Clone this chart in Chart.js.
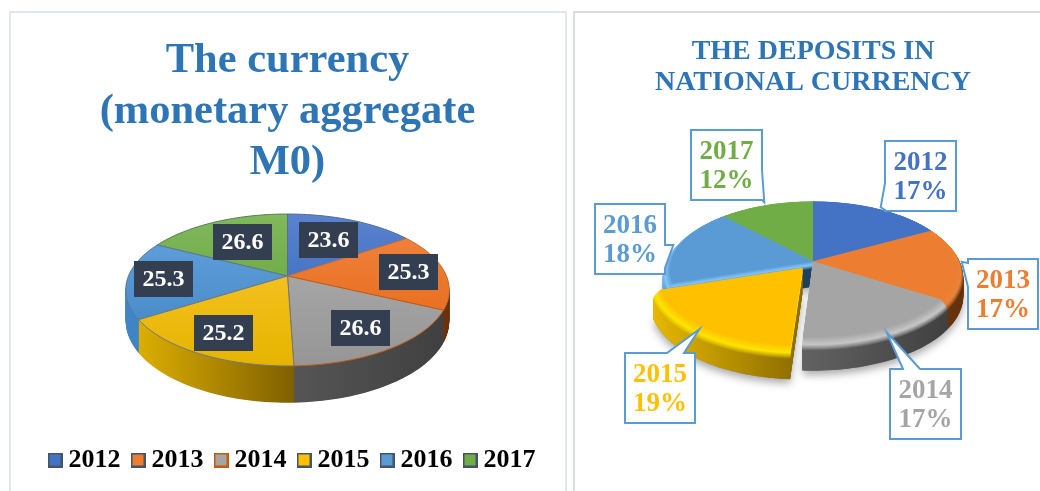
<!DOCTYPE html>
<html><head><meta charset="utf-8">
<script src="https://cdn.jsdelivr.net/npm/chart.js@4/dist/chart.umd.min.js"></script>
<style>
html,body{margin:0;padding:0;background:#fff;width:1040px;height:491px;overflow:hidden}
#p1,#p2{position:absolute;box-sizing:border-box;top:11px}
#p1{left:9px;width:558px;height:500px;border:2px solid #e0e6ef}
#p2{left:573px;width:490px;height:500px;border:2px solid #dcdcdc}
canvas{position:absolute;top:0}
#c1{left:0}#c2{left:573px}
</style></head><body>
<div id="p1"></div><div id="p2"></div>
<canvas id="c1" width="575" height="491"></canvas>
<canvas id="c2" width="480" height="491"></canvas>
<script>
const years=['2012','2013','2014','2015','2016','2017'];
const currencyValues=[23.6,25.3,26.6,25.2,25.3,26.6];
const depositShares=[17,17,17,19,18,12];
const titleLeft=['The currency','(monetary aggregate','M0)'];
const titleRight=['THE DEPOSITS IN','NATIONAL CURRENCY'];
const baseColors=['#4472c4','#ed7d31','#a5a5a5','#ffc000','#5b9bd5','#70ad47'];
const legendBorders=['#44546a','#44546a','#c55a11','#44546a','#44546a','#44546a'];

const hex=c=>[1,3,5].map(i=>parseInt(c.substr(i,2),16));
const mix=(a,b,t)=>{const A=hex(a),B=hex(b);return '#'+A.map((v,i)=>Math.round(v+(B[i]-v)*t).toString(16).padStart(2,'0')).join('')};

const leftStyle={cx:287.5,cy:276,R:159,k:73.4,p:.184,D:30,bevel:0,grow:0,explode:[0,0,0,0,0,0],
  order:[5,0,1,4,2,3],shadow:false,wallStop:[1,1,1,1,1,1],
  faceTop:['#5f86d2','#f48a4a','#b4b4b4','#ffcb3a','#6aa8e2','#84bb60'],
  faceBot:['#2f62b8','#e2640f','#969696','#e6b400','#3f82c2','#5f9f30'],
  hi:baseColors,
  wallL:['#2c4a80','#a04a12','#565656','#dcae00','#3f86c6','#4a7a30'],
  wallR:['#2c4a80','#6b300b','#404040','#7f6000','#3a78b0','#4a7a30'],
  stroke:['#5a6f90','#c07040','#c55a11','#6f7a80','#5a7a99','#5a7f60']};
const rightStyle={cx:813,cy:261.3,R:142,k:67,p:.118,D:25.5,bevel:8,grow:.05,explode:[0,0,0,.12,0,0],
  order:[5,0,4,1,2,3],shadow:true,wallStop:[1,1,1,1,.05,1],
  faceTop:baseColors,faceBot:baseColors,
  hi:['#5f8ad6','#e8843a','#c6c6c6','#ffe400','#84c6f8','#7fb85a'],
  wallL:['#2c4a80','#8a4512','#626262','#e6b800','#6cb2ee','#4a7a30'],
  wallR:['#2c4a80','#63300e','#404040','#8a6a00','#1f4060','#4a7a30'],
  stroke:[null,null,null,null,null,null]};

const leftBoxes=[[299,222],[379,254],[331,310],[194,315],[134,261],[213,224]];
const boxW=59,boxH=36;
// x, y, w, h, pointer tip x, y, pointer base start x, y, base end x, y  (in page pixels)
const callouts=[
 [885,141,71,70,880.7,207.3,885,183,885,210],
 [968,259,70,70,961.7,261.7,968,263,968,287],
 [890,369,71,70,886.7,332.3,903,369,920,369],
 [625,353,70,70,699.3,329.3,667,353,684,353],
 [595,204,70,70,673.3,245,665,245,665,268],
 [691,130,71,70,764.3,202.3,762,170,762,200]];

function slicePath(ctx,st,a0,a1,ex,s,off,midA){
  const eu=ex*Math.cos(midA),ev=ex*Math.sin(midA);
  const P=(u,v)=>{const w=1-st.p*v;return [st.cx+st.R*u/w,st.cy+st.k*v/w+off/w]};
  ctx.beginPath();
  let q=P(eu,ev);ctx.moveTo(q[0],q[1]);
  const n=Math.max(4,Math.ceil((a1-a0)/.03));
  let minX=q[0],maxX=q[0];
  for(let i=0;i<=n;i++){const a=a0+(a1-a0)*i/n;q=P(eu+s*Math.cos(a),ev+s*Math.sin(a));ctx.lineTo(q[0],q[1]);minX=Math.min(minX,q[0]);maxX=Math.max(maxX,q[0]);}
  ctx.closePath();
  return [minX,maxX];
}
function hGrad(ctx,x0,x1,l,r,stop){const g=ctx.createLinearGradient(x0,0,x1,0);g.addColorStop(0,l);g.addColorStop(stop,r);if(stop<1)g.addColorStop(1,r);return g}

function legendSwatch(fill,border){
  const c=document.createElement('canvas');c.width=15;c.height=15;
  const x=c.getContext('2d');x.fillStyle=fill;x.fillRect(0,0,15,15);
  x.strokeStyle=border;x.lineWidth=2;x.strokeRect(1,1,13,13);
  return c;
}

const tilt={id:'tilt',
 afterLayout(chart,args,o){
  if(o.legendShift&&chart.legend){chart.legend.left+=o.legendShift;chart.legend.right+=o.legendShift;}
 },
 beforeDatasetsDraw(chart,args,o){
  const st=o.style,ctx=chart.ctx,meta=chart.getDatasetMeta(0).data;
  ctx.save();
  ctx.translate(-o.ox,0);
  if(st.shadow){
    ctx.save();ctx.shadowColor='rgba(0,0,0,.35)';ctx.shadowBlur=9;ctx.shadowOffsetY=4;ctx.fillStyle='#888';
    st.order.forEach(i=>{const e=meta[i];slicePath(ctx,st,e.startAngle,e.endAngle,st.explode[i],1+st.grow,st.D,(e.startAngle+e.endAngle)/2);ctx.fill();});
    ctx.restore();
  }
  st.order.forEach(i=>{
    const e=meta[i],a0=e.startAngle,a1=e.endAngle,m=(a0+a1)/2,ex=st.explode[i];
    const [x0,x1]=slicePath(ctx,st,a0,a1,ex,1+st.grow,0,m);
    const step=.5;
    for(let off=st.D;off>0;off-=step){
      let l,r,s=1+st.grow;
      if(st.bevel&&off<st.bevel){
        const t=off/st.bevel;s=1+st.grow*Math.sin(t*Math.PI/2);
        if(t<.5){l=r=mix(st.faceBot[i],st.hi[i],t*2);}
        else{l=mix(st.hi[i],st.wallL[i],(t-.5)*2);r=mix(st.hi[i],st.wallR[i],(t-.5)*2);}
      }else{l=st.wallL[i];r=st.wallR[i];}
      ctx.fillStyle=hGrad(ctx,x0,x1,l,r,st.wallStop[i]);
      slicePath(ctx,st,a0,a1,ex,s,off,m);ctx.fill();
    }
    const g=ctx.createLinearGradient(0,st.cy-st.k*1.1,0,st.cy+st.k*1.2);
    g.addColorStop(0,st.faceTop[i]);g.addColorStop(1,st.faceBot[i]);
    ctx.fillStyle=g;
    slicePath(ctx,st,a0,a1,ex,1,0,m);ctx.fill();
    if(st.stroke[i]){ctx.strokeStyle=st.stroke[i];ctx.lineWidth=1;ctx.stroke();}
  });
  ctx.restore();
  return false;
 },
 afterDraw(chart,args,o){
  const ctx=chart.ctx;ctx.save();ctx.translate(-o.ox,0);
  if(o.kind==='box'){
    ctx.font='bold 24px "Liberation Serif"';ctx.textAlign='center';ctx.textBaseline='middle';
    currencyValues.forEach((v,i)=>{
      const [x,y]=leftBoxes[i];
      ctx.fillStyle='#333f50';ctx.fillRect(x,y,boxW,boxH);
      ctx.fillStyle='#fff';ctx.fillText(v.toFixed(1),x+boxW/2,y+boxH/2+1);
    });
  }else{
    years.forEach((yr,i)=>{
      const [x,y,w,h,tx,ty,bx0,by0,bx1,by1]=callouts[i];
      ctx.fillStyle='#fff';ctx.strokeStyle='#5b9bd5';ctx.lineWidth=2;
      const pts=[[x,y],[x+w,y],[x+w,y+h],[x,y+h]];
      ctx.beginPath();
      const side=bx0===bx1?(bx0<=x+1?3:1):(by0<=y+1?0:2);
      pts.forEach((p,j)=>{
        ctx.lineTo(p[0],p[1]);
        if(j===side){
          const rev=side===3;
          const a=rev?[bx1,by1]:[bx0,by0],b=rev?[bx0,by0]:[bx1,by1];
          ctx.lineTo(a[0],a[1]);ctx.lineTo(tx,ty);ctx.lineTo(b[0],b[1]);
        }
      });
      ctx.closePath();ctx.fill();ctx.stroke();
      ctx.fillStyle=baseColors[i];ctx.font='bold 27px "Liberation Serif"';ctx.textAlign='center';ctx.textBaseline='middle';
      ctx.fillText(yr,x+w/2,y+22);
      ctx.fillText(depositShares[i]+'%',x+w/2,y+51);
    });
  }
  ctx.restore();
 }};
Chart.register(tilt);
Chart.defaults.font.family='"Liberation Serif"';
Chart.defaults.animation=false;

new Chart(document.getElementById('c1'),{type:'pie',
 data:{labels:years,datasets:[{data:currencyValues,backgroundColor:baseColors,borderColor:legendBorders,borderWidth:2}]},
 options:{responsive:false,
  plugins:{
   tilt:{style:leftStyle,kind:'box',ox:0,legendShift:7.5},
   tooltip:{enabled:false},
   title:{display:true,text:titleLeft,color:'#2e75b6',font:{size:42.5,weight:'bold',lineHeight:1.2},padding:{top:36,bottom:0}},
   legend:{display:true,position:'bottom',labels:{color:'#000',font:{size:26,weight:'bold'},usePointStyle:true,pointStyleWidth:1,boxHeight:15,padding:17,
     generateLabels(chart){
       const items=Chart.overrides.pie.plugins.legend.labels.generateLabels(chart);
       items.forEach((it,i)=>{it.pointStyle=legendSwatch(baseColors[i],legendBorders[i]);});
       return items;
     }}}
  },layout:{padding:{bottom:8}}}});

new Chart(document.getElementById('c2'),{type:'pie',
 data:{labels:years,datasets:[{data:depositShares,backgroundColor:baseColors}]},
 options:{responsive:false,
  plugins:{
   tilt:{style:rightStyle,kind:'callout',ox:573},
   tooltip:{enabled:false},
   legend:{display:false},
   title:{display:true,text:titleRight,color:'#2e75b6',font:{size:28,weight:'bold',lineHeight:1.125},padding:{top:36,bottom:0}}
  }}});
</script></body></html>
